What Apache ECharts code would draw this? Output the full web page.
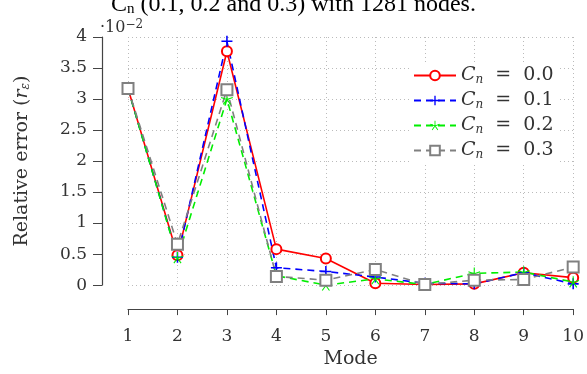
<!DOCTYPE html>
<html>
<head>
<meta charset="utf-8">
<script src="https://cdn.jsdelivr.net/npm/echarts@6/dist/echarts.min.js"></script>
<style>
  html, body { margin: 0; padding: 0; background: #fff; }
  #chart { width: 587px; height: 374px; }
</style>
</head>
<body>
<div id="chart"></div>
<script>
// 数据（单位 10^-2）
const modes = [1, 2, 3, 4, 5, 6, 7, 8, 9, 10];
const cn00 = [3.17, 0.48, 3.77, 0.58, 0.43, 0.03, 0.01, 0.02, 0.20, 0.12];
const cn01 = [3.17, 0.45, 3.93, 0.28, 0.22, 0.13, 0.03, 0.02, 0.20, 0.02];
const cn02 = [3.17, 0.44, 3.00, 0.15, 0.00, 0.10, 0.01, 0.19, 0.21, 0.05];
const cn03 = [3.17, 0.66, 3.15, 0.14, 0.08, 0.25, 0.01, 0.08, 0.09, 0.29];
const seriesNames = ['0.0', '0.1', '0.2', '0.3'];
const yTicks = [0, 0.5, 1, 1.5, 2, 2.5, 3, 3.5, 4];

const times = '"Liberation Serif", serif';
const serif = '"DejaVu Serif", serif';
const textColor = '#333';

// 星号标记：5 条细臂
function starPath() {
    let d = '';
    const r = 10, w = 0.9;
    for (let k = 0; k < 5; k++) {
        const a = (-90 + 72 * k) * Math.PI / 180;
        const px = -Math.sin(a) * w, py = Math.cos(a) * w;
        const ex = 10 + Math.cos(a) * r, ey = 10 + Math.sin(a) * r;
        d += 'M' + (10 + px) + ',' + (10 + py) + 'L' + (ex + px) + ',' + (ey + py) +
             'L' + (ex - px) + ',' + (ey - py) + 'L' + (10 - px) + ',' + (10 - py) + 'Z';
    }
    return 'path://' + d;
}
const plusPath = 'path://M4.3,0H5.7V4.3H10V5.7H5.7V10H4.3V5.7H0V4.3H4.3Z';

function pairs(values) {
    return modes.map((m, i) => [m, values[i]]);
}

const chart = echarts.init(document.getElementById('chart'));
chart.setOption({
    animation: false,
    grid: { left: 128, right: 10, top: 37, bottom: 81 },
    title: [
        {
            // 被裁掉一半的图注
            text: '{b|C}{sub|n}{b| (0.1, 0.2 and 0.3) with 1281 nodes.}',
            left: 'center',
            top: -8,
            padding: 0,
            textStyle: {
                fontFamily: times, fontSize: 24, color: '#000', fontWeight: 'normal',
                rich: {
                    b: { fontFamily: times, fontSize: 24, color: '#000' },
                    sub: { fontFamily: times, fontSize: 15, color: '#000', padding: [10, 0, 0, 0] }
                }
            }
        },
        {
            text: '{b|·10}{sup|−2}',
            left: 100,
            top: 13,
            padding: 0,
            textStyle: {
                fontFamily: serif, fontSize: 16, color: textColor, fontWeight: 'normal',
                rich: {
                    b: { fontFamily: serif, fontSize: 16, color: textColor, padding: [7, 0, 0, 0] },
                    sup: { fontFamily: serif, fontSize: 12, color: textColor }
                }
            }
        }
    ],
    legend: {
        orient: 'vertical',
        left: 409,
        top: 62,
        itemWidth: 42,
        itemHeight: 12,
        itemGap: 2,
        backgroundColor: '#fff',
        padding: [2, 6, 2, 4],
        formatter: (name) => '{i|C}{s|n}  =  ' + name,
        textStyle: {
            fontFamily: serif, fontSize: 19, color: textColor, lineHeight: 23,
            rich: {
                i: { fontFamily: serif, fontSize: 19, fontStyle: 'italic', color: textColor },
                s: { fontFamily: serif, fontSize: 12, fontStyle: 'italic', color: textColor, padding: [8, 0, 0, 0] }
            }
        }
    },
    xAxis: {
        type: 'value',
        min: 1, max: 10, interval: 1,
        offset: 24,
        name: 'Mode',
        nameLocation: 'middle',
        nameGap: 40,
        nameTextStyle: { fontFamily: serif, fontSize: 19, color: textColor },
        axisLine: { show: true, onZero: false, lineStyle: { color: '#444', width: 1.2 } },
        axisTick: { show: true, length: 6, lineStyle: { color: '#444' } },
        axisLabel: { margin: 19, fontFamily: serif, fontSize: 17, color: textColor },
        splitLine: { show: true, lineStyle: { type: [1, 3], color: '#bbb' } }
    },
    yAxis: {
        type: 'value',
        min: 0, max: 4, interval: 0.5,
        offset: 26,
        name: 'Relative error ({i|r}{s|ε})',
        nameLocation: 'middle',
        nameRotate: 90,
        nameGap: 70,
        nameTextStyle: {
            fontFamily: serif, fontSize: 19, color: textColor,
            rich: {
                i: { fontFamily: serif, fontSize: 19, fontStyle: 'italic', color: textColor },
                s: { fontFamily: serif, fontSize: 12, fontStyle: 'italic', color: textColor, padding: [6, 0, 0, 0] }
            }
        },
        axisLine: { show: true, lineStyle: { color: '#444', width: 1.2 } },
        axisTick: { show: true, length: 9, lineStyle: { color: '#444' } },
        axisLabel: {
            margin: 15, fontFamily: serif, fontSize: 17, color: textColor,
            formatter: (v) => yTicks.includes(v) ? String(v) : ''
        },
        splitLine: { show: true, lineStyle: { type: [1, 3], color: '#bbb' } }
    },
    series: [
        {
            name: seriesNames[0], type: 'line', data: pairs(cn00),
            symbol: 'emptyCircle', symbolSize: 10,
            lineStyle: { color: '#f00', width: 1.6 },
            itemStyle: { color: '#f00', borderColor: '#f00', borderWidth: 1.6 }
        },
        {
            name: seriesNames[1], type: 'line', data: pairs(cn01),
            symbol: plusPath, symbolSize: 11,
            lineStyle: { color: '#00f', width: 1.6, type: [7, 5] },
            itemStyle: { color: '#00f' }
        },
        {
            name: seriesNames[2], type: 'line', data: pairs(cn02),
            symbol: starPath(), symbolSize: 12, symbolKeepAspect: true,
            lineStyle: { color: '#0e0', width: 1.6, type: [7, 5] },
            itemStyle: { color: '#0e0' }
        },
        {
            name: seriesNames[3], type: 'line', data: pairs(cn03),
            symbol: 'emptyRect', symbolSize: 11,
            lineStyle: { color: '#808080', width: 1.6, type: [7, 5] },
            itemStyle: { color: '#808080', borderColor: '#808080', borderWidth: 1.6 }
        }
    ]
});
</script>
</body>
</html>
